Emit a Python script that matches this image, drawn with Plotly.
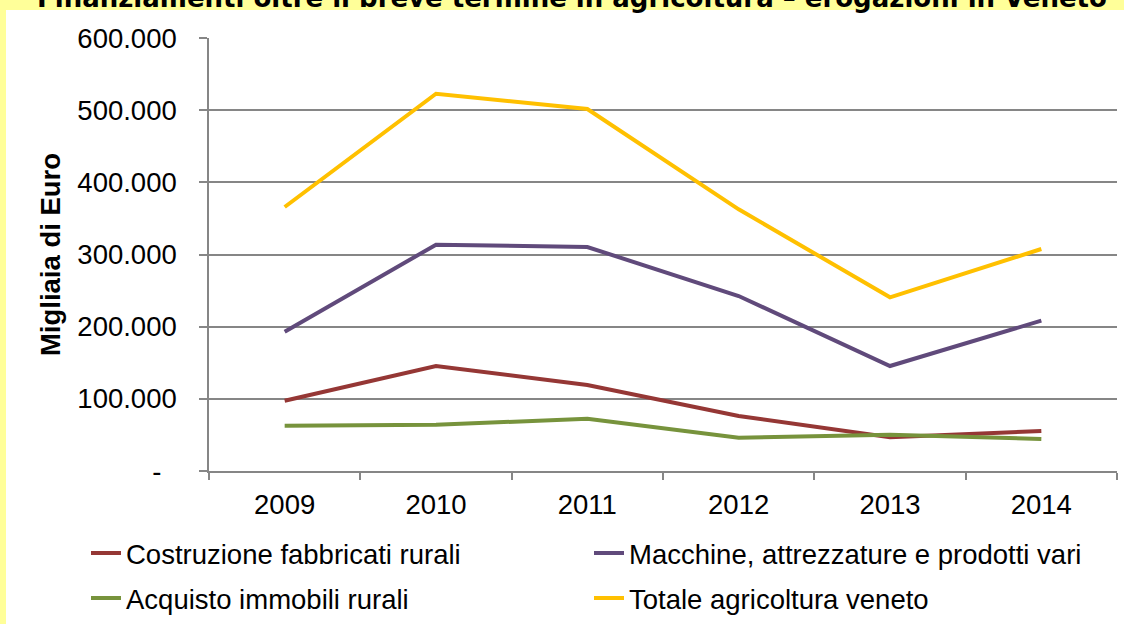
import plotly.graph_objects as go

years = ["2009", "2010", "2011", "2012", "2013", "2014"]
costruzione = [97400, 145500, 119200, 76200, 46700, 55400]
macchine = [193000, 313600, 310400, 242500, 145500, 208300]
acquisto = [62800, 64000, 72500, 46200, 50300, 44300]
totale = [365800, 522800, 501600, 362600, 240700, 307600]

series_names = ["Costruzione fabbricati rurali", "Macchine, attrezzature e prodotti vari",
                "Acquisto immobili rurali", "Totale agricoltura veneto"]
series_values = [costruzione, macchine, acquisto, totale]
series_colors = ["#953735", "#604A7B", "#77933C", "#FFC000"]
series_legends = ["legend", "legend", "legend2", "legend2"]

y_tickvals = [0, 100000, 200000, 300000, 400000, 500000, 600000]
y_ticktext = ["-\u00a0\u00a0", "100.000", "200.000", "300.000", "400.000", "500.000", "600.000"]

title_text = "Finanziamenti oltre il breve termine in agricoltura – erogazioni in Veneto"
y_title = "Migliaia di Euro"

W, H = 1124, 624
L, R, T, B = 209, 7, 38, 153
PW, PH = W - L - R, H - T - B

def px_x(px):
    return (px - L) / PW

def px_y(py):
    return (H - B - py) / PH

FONT = "Liberation Sans, Arial, sans-serif"
FS = 27.5
YELLOW = "#FFFF99"

fig = go.Figure()
for name, vals, col, lg in zip(series_names, series_values, series_colors, series_legends):
    fig.add_trace(go.Scatter(x=years, y=vals, mode="lines", name=name,
                             line=dict(color=col, width=4), legend=lg))

fig.update_layout(
    width=W, height=H,
    margin=dict(l=L, r=R, t=T, b=B, autoexpand=False),
    paper_bgcolor="white",
    plot_bgcolor="white",
    font=dict(family=FONT, size=FS, color="black"),
    showlegend=True,
    legend=dict(orientation="h", x=px_x(86), xanchor="left", y=px_y(553), yanchor="middle",
                entrywidth=458, entrywidthmode="pixels", bgcolor="rgba(0,0,0,0)",
                font=dict(family=FONT, size=FS, color="black")),
    legend2=dict(orientation="h", x=px_x(86), xanchor="left", y=px_y(598), yanchor="middle",
                 entrywidth=458, entrywidthmode="pixels", bgcolor="rgba(0,0,0,0)",
                 font=dict(family=FONT, size=FS, color="black")),
    xaxis=dict(type="category", range=[-0.5, 5.5], tickson="boundaries", ticks="outside", ticklen=7,
               tickcolor="#868686", tickwidth=1.5, showline=True, linecolor="#868686",
               linewidth=1.5, showgrid=False, zeroline=False, ticklabelstandoff=8,
               tickfont=dict(family=FONT, size=FS, color="black"), fixedrange=True),
    yaxis=dict(range=[0, 600000], tickvals=y_tickvals, ticktext=y_ticktext,
               ticks="outside", ticklen=8, tickcolor="#868686", tickwidth=1.5,
               showline=True, linecolor="#868686", linewidth=1.5,
               showgrid=True, gridcolor="#868686", gridwidth=1.5, zeroline=False,
               ticklabelstandoff=17,
               tickfont=dict(family=FONT, size=FS, color="black"),
               title=dict(text="<b>" + y_title + "</b>", standoff=9,
                          font=dict(family=FONT, size=FS, color="black")),
               fixedrange=True),
    shapes=[
        dict(type="rect", xref="paper", yref="paper", layer="below",
             x0=px_x(-20), x1=px_x(6), y0=px_y(H + 20), y1=px_y(-20),
             fillcolor=YELLOW, line=dict(width=0)),
        dict(type="rect", xref="paper", yref="paper", layer="below",
             x0=px_x(-20), x1=px_x(W + 20), y0=px_y(10), y1=px_y(-20),
             fillcolor=YELLOW, line=dict(width=0)),
    ],
    annotations=[dict(text="<b>" + title_text + "</b>", xref="paper", yref="paper",
                      x=px_x(35), xanchor="left", y=px_y(15), yanchor="bottom",
                      showarrow=False,
                      font=dict(family="DejaVu Sans, Verdana, sans-serif", size=26, color="black"))],
)

fig.write_html("out.html", config={"displayModeBar": False},
               post_script="document.body.style.margin='0';document.body.style.overflow='hidden';")
